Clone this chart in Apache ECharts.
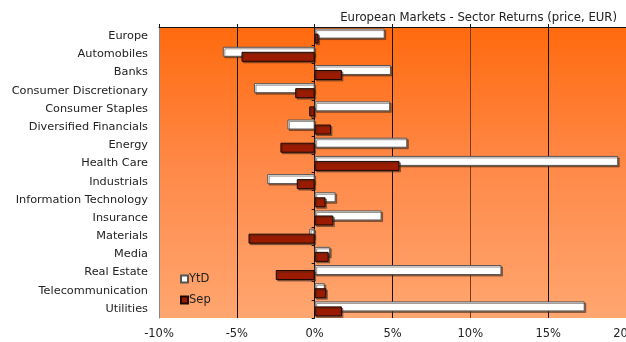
<!DOCTYPE html>
<html>
<head>
<meta charset="utf-8">
<script src="https://cdn.jsdelivr.net/npm/echarts@6/dist/echarts.min.js"></script>
<style>
  html, body { margin: 0; padding: 0; background: #fff; }
  #chart { width: 626px; height: 342px; }
</style>
</head>
<body>
<div id="chart"></div>
<script>
// Sector names, top to bottom
const sectors = [
  'Europe', 'Automobiles', 'Banks', 'Consumer Discretionary', 'Consumer Staples',
  'Diversified Financials', 'Energy', 'Health Care', 'Industrials',
  'Information Technology', 'Insurance', 'Materials', 'Media', 'Real Estate',
  'Telecommunication', 'Utilities'
];
// Year-to-date price returns (%)
const ytd = [4.5, -5.9, 4.9, -3.9, 4.85, -1.75, 5.95, 19.5, -3.05, 1.35, 4.3, -0.35, 1.0, 12.0, 0.65, 17.35];
// September price returns (%)
const sep = [0.25, -4.7, 1.75, -1.25, -0.35, 1.05, -2.2, 5.45, -1.15, 0.7, 1.2, -4.25, 0.9, -2.5, 0.75, 1.75];

const FONT = 'DejaVu Sans';
const chart = echarts.init(document.getElementById('chart'), null, { renderer: 'canvas' });

const catAxisBase = { type: 'category', data: sectors, inverse: true, boundaryGap: true };

chart.setOption({
  animation: false,
  backgroundColor: '#ffffff',
  title: {
    text: 'European Markets - Sector Returns (price, EUR)',
    right: 4, top: 7,
    textStyle: { fontFamily: FONT, fontSize: 11.7, fontWeight: 'normal', color: '#222' }
  },
  legend: {
    orient: 'vertical', left: 175, top: 268,
    itemWidth: 7, itemHeight: 7, itemGap: 9,
    icon: 'rect',
    textStyle: { fontFamily: FONT, fontSize: 11.5, color: '#222', padding: [0, 0, 0, -4] },
    data: ['YtD', 'Sep']
  },
  grid: {
    left: 159, right: 0, top: 27, height: 291,
    outerBoundsMode: 'none', containLabel: false,
    show: true, borderWidth: 0,
    backgroundColor: {
      type: 'linear', x: 0, y: 0, x2: 0, y2: 1,
      colorStops: [
        { offset: 0, color: '#ff6a0e' },
        { offset: 0.5, color: '#ff8a4a' },
        { offset: 1, color: '#ffa670' }
      ]
    }
  },
  xAxis: [
    {
      type: 'value', position: 'bottom', min: -10, max: 20, interval: 5,
      axisLine: { show: false }, axisTick: { show: false },
      axisLabel: { formatter: '{value}%', fontFamily: FONT, fontSize: 11.5, color: '#222', margin: 10 },
      splitLine: { show: true, lineStyle: { color: ['#888', '#111', '#111', '#111', '#7a3a14', '#111', '#111'], width: 1 } }
    },
    {
      type: 'value', position: 'top', min: -10, max: 20, interval: 5,
      axisLine: { show: true, onZero: false, lineStyle: { color: '#111', width: 1 } },
      axisTick: { show: true, length: 3, lineStyle: { color: '#111' } },
      axisLabel: { show: false }, splitLine: { show: false }
    }
  ],
  yAxis: [
    Object.assign({}, catAxisBase, {
      position: 'left',
      axisLine: { show: true, onZero: false, lineStyle: { color: '#888', width: 1 } },
      axisTick: { show: false },
      axisLabel: { fontFamily: FONT, fontSize: 11.3, color: '#222', margin: 11, interval: 0, padding: [3, 0, 0, 0] }
    }),
    Object.assign({}, catAxisBase, {
      position: 'left',
      axisLine: { show: true, onZero: true, onZeroAxisIndex: 0, lineStyle: { color: '#111', width: 1 } },
      axisTick: { show: true, length: 3, lineStyle: { color: '#111' } },
      axisLabel: { show: false }, splitLine: { show: false }
    })
  ],
  series: [
    {
      name: 'YtD', type: 'bar', data: ytd, barWidth: 10, barGap: '-50%',
      xAxisIndex: 0, yAxisIndex: 0,
      itemStyle: {
        color: '#ffffff', borderColor: '#555', borderWidth: 1,
        shadowColor: 'rgba(60,40,30,0.5)', shadowOffsetX: 1.5, shadowOffsetY: 1.5, shadowBlur: 0
      }
    },
    {
      name: 'Sep', type: 'bar', data: sep, barWidth: 10, barGap: '-50%',
      xAxisIndex: 0, yAxisIndex: 0,
      itemStyle: {
        color: '#9a1b00', borderColor: '#1a0800', borderWidth: 1,
        shadowColor: 'rgba(60,40,30,0.5)', shadowOffsetX: 1.5, shadowOffsetY: 1.5, shadowBlur: 0
      }
    }
  ]
});
</script>
</body>
</html>
